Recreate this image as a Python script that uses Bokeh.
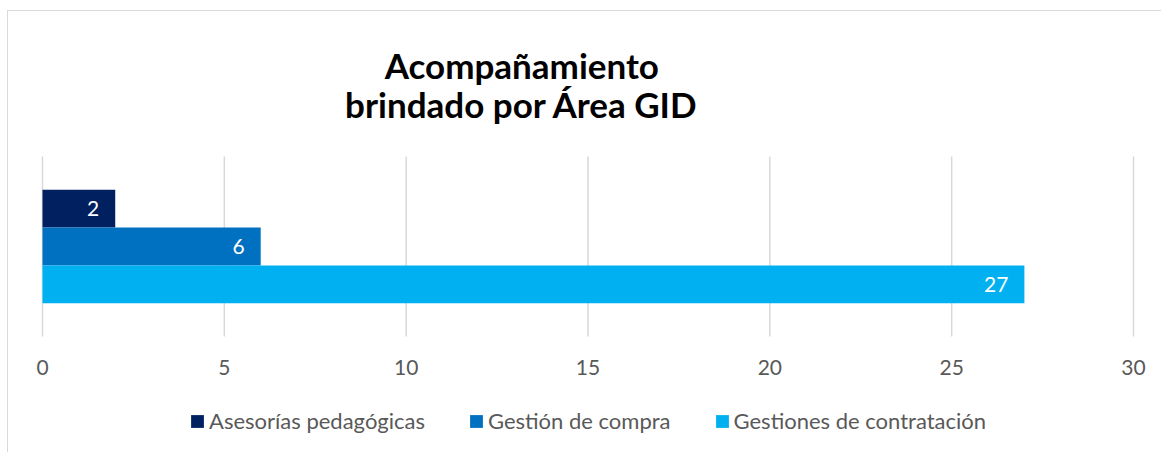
from bokeh.plotting import figure
from bokeh.models import Range1d, FixedTicker, Legend, LegendItem, ColumnDataSource
from bokeh.core.properties import value
from bokeh.embed import file_html
from bokeh.resources import INLINE

# ---- data ----
series = ["Asesorías pedagógicas", "Gestión de compra", "Gestiones de contratación"]
values = [2, 6, 27]
colors = ["#002060", "#0070C0", "#00B0F0"]
x_ticks = [0, 5, 10, 15, 20, 25, 30]
title_lines = ["Acompañamiento", "brindado por Área GID"]

FONT = "Lato"
BAR_H = 0.21                 # bar thickness in category units (category band = 0..1)
PX_X = 1091 / 30             # pixels per x unit
PX_Y = 180                   # pixels per category band
X0, X1 = -34 / PX_X, 30 + 28 / PX_X
Y0, Y1 = -116 / PX_Y, 1 + 145 / PX_Y

p = figure(frame_width=1153, frame_height=441, output_backend="svg", toolbar_location=None,
           x_range=Range1d(X0, X1), y_range=Range1d(Y0, Y1),
           y_axis_location=None, min_border_left=0, min_border_right=0,
           min_border_top=0, min_border_bottom=0)
p.styles = {"margin-left": "7px", "margin-top": "10px",
            "border-left": "1px solid #d9d9d9", "border-top": "1px solid #d9d9d9"}
p.outline_line_color = None
p.background_fill_color = "white"
p.border_fill_color = "white"

# grid (vertical lines spanning only the category band)
p.xgrid.grid_line_color = None
p.ygrid.grid_line_color = None
p.segment(x0=x_ticks, x1=x_ticks, y0=[0] * len(x_ticks), y1=[1] * len(x_ticks),
          line_color="#d9d9d9", line_width=1.5)

# x axis, drawn at the bottom of the category band
ax = p.xaxis[0]
ax.fixed_location = 0
ax.ticker = FixedTicker(ticks=x_ticks)
ax.axis_line_color = None
ax.major_tick_line_color = None
ax.minor_tick_line_color = None
ax.major_tick_out = 0
ax.major_tick_in = 0
ax.minor_tick_out = 0
ax.minor_tick_in = 0
ax.major_label_text_font = FONT
ax.major_label_text_font_size = "21px"
ax.major_label_text_color = "#595959"
ax.major_label_standoff = 23

items = []
n = len(series)
for i, (name, v, c) in enumerate(zip(series, values, colors)):
    yc = 0.5 + ((n - 1) / 2 - i) * BAR_H
    src = ColumnDataSource(dict(y=[yc], right=[v], label=[str(v)]))
    r = p.hbar(y="y", right="right", left=0, height=BAR_H, source=src,
               fill_color=c, line_color=None)
    p.text(x="right", y="y", text="label", source=src, x_offset=-16,
           text_align="right", text_baseline="middle", text_color="white",
           text_font=value(FONT), text_font_size="21px")
    items.append(LegendItem(label=name, renderers=[r]))

legend = Legend(items=items, orientation="horizontal", location=(181, 18),
                glyph_width=16, glyph_height=16, label_standoff=4, spacing=43,
                label_text_font=FONT, label_text_font_size="22px",
                label_text_color="#595959", border_line_color=None,
                background_fill_alpha=0, margin=0, padding=0)
p.add_layout(legend)

# title
p.text(x=[13.18, 13.18], y=[1.508, 1.291], text=title_lines, text_align="center",
       text_baseline="alphabetic", text_font=value(FONT), text_font_style="bold",
       text_font_size="35px", text_color="black")

open("out.html", "w").write(file_html(p, INLINE))
